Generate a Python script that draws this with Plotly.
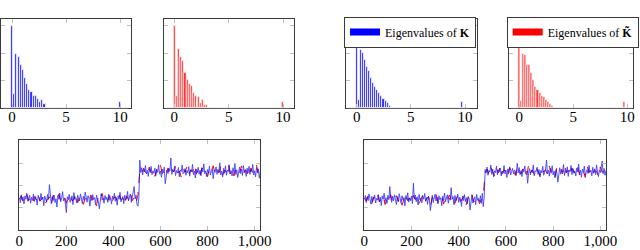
import plotly.graph_objects as go

# ---------------- eigenvalue histograms (top row) ----------------
bins_left = [0.0, 0.2, 0.4, 0.6, 0.8, 1.0, 1.2, 1.4, 1.6, 1.8, 2.0, 2.2, 2.4, 2.6, 2.8, 3.0, 9.94]
eig_K_left = [3.0, 0.52, 1.98, 1.87, 1.59, 1.40, 1.10, 0.88, 0.67, 0.59, 0.43, 0.43, 0.33, 0.22, 0.29, 0.16, 0.23]
eig_Kt_left = [3.0, 0.46, 2.15, 1.88, 1.72, 1.28, 1.04, 0.87, 0.80, 0.54, 0.45, 0.40, 0.21, 0.32, 0.12, 0.12, 0.23]

bins_right = [0.0, 0.19, 0.38, 0.57, 0.76, 0.95, 1.14, 1.33, 1.52, 1.71, 1.90, 2.09, 2.28, 2.47, 2.66, 2.85, 3.04, 9.7]
eig_K_right = [3.0, 0.30, 2.13, 2.01, 1.77, 1.52, 1.34, 1.10, 0.91, 0.79, 0.67, 0.55, 0.43, 0.34, 0.27, 0.18, 0.09, 0.22]
eig_Kt_right = [3.0, 0.27, 1.98, 1.95, 1.59, 1.56, 1.28, 1.04, 0.79, 0.67, 0.55, 0.45, 0.40, 0.30, 0.24, 0.15, 0.09, 0.22]

hist_ticks = [0, 5, 10]
signal_ticks = [0, 200, 400, 600, 800, 1000]
signal_ticklabels = ["0", "200", "400", "600", "800", "1,000"]

# ---------------- signals (bottom row) ----------------
t_blue = list(range(0, 1025, 4))
t_red = list(range(0, 1025, 8))

blue_left = [
    -0.55, -0.78, -0.42, -0.66, -0.51, -0.83, -0.47, -0.62, -0.35, -0.71, -0.58, -0.44, -0.80, -0.53, -0.67, -0.39,
    -0.72, -0.49, -0.61, -0.88, -0.45, -0.57, -0.70, -0.36, -0.64, -0.52, -0.91, -0.48, -0.59, -0.74, -0.41, -0.63,
    0.04, -0.56, -0.82, -0.50, -0.68, -0.43, -0.77, -0.60, -0.97, -0.46, -0.62, -0.34, -0.73, -0.55, -0.28, -0.69,
    -0.58, -0.84, -1.22, -0.51, -0.65, -0.40, -0.76, -0.57, -0.47, -0.86, -0.32, -0.63, -0.54, -0.79, -0.44, -0.60,
    -0.70, -0.38, -0.59, -0.81, -0.49, -0.66, -0.30, -0.62, -0.75, -0.46, -0.57, -0.93, -0.52, -0.68, -0.41, -0.64,
    -0.55, -0.87, -0.43, -0.61, -0.72, -1.05, -0.50, -0.37, -0.66, -0.58, -0.80, -0.45, -0.63, -0.53, -0.76, -0.40,
    -0.67, -0.56, -0.84, -0.48, -0.60, -0.35, -0.71, -0.54, -0.89, -0.46, -0.62, -0.31, -0.74, -0.57, -0.50, -0.82,
    -0.44, -0.65, -0.58, -0.27, -0.70, -0.52, -0.38, -0.76, -0.49, -0.22, -0.05, -0.61, -0.43, -0.85, -0.93, -0.56,
    1.15,
    0.58, 0.80, 0.47, 0.71, 0.62, 0.90, 0.52, 0.68, 0.41, 0.75, 0.60, 0.86, 0.49, 0.66, 0.55,
    0.78, 0.44, 0.70, 0.59, 0.93, 0.51, 0.64, 0.37, 0.73, 0.57, 0.83, 0.08, 0.48, 0.69, 0.54, 0.77,
    0.66, 1.24, 0.50, 0.72, 0.61, 0.88, 0.45, 0.67, 0.56, 0.81, 0.39, 0.70, 0.63, 0.92, 0.53, 0.60,
    0.76, 0.46, 0.68, 0.57, 0.85, 0.42, 0.71, 0.62, 0.95, 0.49, 0.65, 0.34, 0.74, 0.58, 0.82, 0.51,
    0.69, 0.44, 0.79, 0.60, 0.97, 0.53, 0.66, 0.40, 0.72, 0.56, 0.87, 0.47, 0.63, 0.75, 0.31, 0.68,
    0.59, 0.84, 0.50, 0.73, 0.61, 1.02, 0.48, 0.65, 0.38, 0.77, 0.55, 0.89, 0.46, 0.70, 0.62, 0.93,
    0.52, 0.67, 0.43, 0.80, 0.58, 0.99, 0.49, 0.71, 0.36, 0.64, 0.83, 0.54, 0.74, 0.45, 0.90, 0.60,
    0.69, 0.41, 0.78, 0.57, 0.86, 0.50, 0.72, 0.63, 0.95, 0.47, 0.66, 0.39, 0.81, 0.58, 0.75, 0.33, 0.62,
]

red_left = [
    -0.62, -0.48, -0.75, -0.55, -0.41, -0.68, -0.59, -0.83, -0.50, -0.64, -0.37, -0.71, -0.57, -0.46, -0.79, -0.60,
    -0.52, -0.88, -0.44, -0.66, -0.58, -0.39, -0.73, -0.61, -0.49, -0.80, -0.54, -0.42, -0.69, -0.63, -0.35, -0.77,
    -0.56, -0.47, -0.85, -0.60, -0.51, -0.70, -0.43, -0.65, -0.58, -0.92, -0.48, -0.62, -0.36, -0.74, -0.55, -0.67,
    -0.45, -0.82, -0.59, -0.50, -0.71, -0.40, -0.64, -0.57, -0.86, -0.47, -0.63, -0.33, -0.69, -0.53, -0.78, -0.44,
    0.66, 0.52, 0.78, 0.60, 0.45, 0.83, 0.57, 0.70, 0.41, 0.74, 0.63, 0.91, 0.50, 0.68, 0.55, 0.79,
    0.47, 0.72, 0.61, 0.87, 0.53, 0.65, 0.38, 0.76, 0.59, 0.84, 0.49, 0.69, 0.62, 0.94, 0.51, 0.73,
    0.44, 0.80, 0.58, 0.67, 0.40, 0.77, 0.64, 0.89, 0.52, 0.71, 0.56, 0.85, 0.46, 0.70, 0.60, 0.96,
    0.54, 0.75, 0.43, 0.81, 0.65, 0.57, 0.88, 0.48, 0.72, 0.61, 0.37, 0.79, 0.55, 0.68, 0.92, 0.50, 0.66,
]

blue_right = [
    -0.63, -0.45, -0.77, -0.52, -0.68, -0.38, -0.60, -0.84, -0.49, -0.71, -0.56, -0.43, -0.79, -0.58, -0.66, -0.41,
    -0.74, -0.53, -0.90, -0.47, -0.62, -0.35, -0.70, -0.55, -0.81, -0.44, -0.64, -0.05, -0.57, -0.76, -0.48, -0.69,
    -0.42, -0.61, -0.86, -0.50, -0.72, -0.37, -0.59, -0.80, -0.46, -0.67, -0.54, -0.92, -0.45, -0.63, -0.33, -0.75,
    -0.56, -0.69, -0.48, -0.82, 0.10, -0.60, -0.43, -0.73, -0.51, -0.88, -0.40, -0.65, -0.57, -0.78, -0.47, -0.62,
    -0.36, -0.71, -0.54, -0.85, -0.49, -0.66, -1.13, -0.58, -0.44, -0.77, -0.61, -0.39, -0.70, -0.52, -0.83, -0.46,
    -0.64, -0.55, -0.91, -0.48, -0.68, -0.34, -0.73, -0.59, -0.42, -0.80, -0.57, -0.66, -0.10, -0.62, -0.50, -0.87,
    -0.45, -0.70, -0.58, -0.38, -0.76, -0.53, -0.63, -0.94, -0.47, -0.68, -0.41, -0.72, -0.55, -0.83, -0.49, -0.60,
    -1.10, -0.56, -0.44, -0.79, -0.62, -0.51, -0.87, -0.40, -0.67, -0.58, -0.74, -0.46, -0.81, -0.35, -0.95, -0.52,
    0.72,
    0.55, 0.83, 0.46, 0.68, 0.60, 0.92, 0.50, 0.74, 0.39, 0.66, 0.58, 0.87, 0.48, 0.71, 0.62,
    0.79, 0.43, 0.65, 0.56, 0.90, 0.52, 0.69, 0.36, 0.75, 0.59, 0.84, 0.47, 0.63, 0.77, 0.53, 0.70,
    0.61, 0.45, 1.00, 0.57, 0.81, 0.49, 0.67, 0.40, 0.73, 0.60, 0.88, 0.51, 0.64, 0.10, 0.55, 0.76,
    0.48, 0.70, 0.58, 0.93, 0.44, 0.66, 0.62, 0.82, 0.50, 0.72, 0.38, 0.68, 0.57, 0.86, 0.46, 0.63,
    0.74, 1.15, 0.53, 0.69, 0.42, 0.78, 0.59, 0.89, 0.48, 0.65, 0.35, 0.71, 0.56, 0.15, 0.63, 0.80,
    0.51, 0.73, 0.60, 0.95, 0.45, 0.67, 0.58, 0.84, 0.41, 0.70, 0.62, 0.90, 0.49, 0.76, 0.55, 0.66,
    0.43, 0.79, 0.61, 0.97, 0.52, 0.68, 0.37, 0.74, 0.58, 0.87, 0.47, 0.64, 0.72, 0.54, 0.91, 0.60,
    0.69, 0.44, 0.82, 0.57, 0.75, 0.49, 0.93, 0.62, 0.40, 0.71, 0.58, 0.85, 1.10, 0.53, 0.77, 0.46, 0.68,
]

red_right = [
    -0.57, -0.70, -0.44, -0.63, -0.81, -0.52, -0.66, -0.39, -0.74, -0.60, -0.48, -0.86, -0.55, -0.68, -0.42, -0.77,
    -0.59, -0.46, -0.72, -0.53, -0.89, -0.61, -0.37, -0.69, -0.56, -0.79, -0.45, -0.64, -0.51, -0.83, -0.58, -0.41,
    -0.73, -0.62, -0.49, -0.95, -0.54, -0.67, -0.38, -0.76, -0.60, -0.47, -0.84, -0.56, -0.70, -0.43, -0.65, -0.52,
    -0.80, -0.58, -0.35, -0.72, -0.61, -0.46, -0.87, -0.55, -0.68, -0.40, -0.75, -0.59, -0.50, -0.82, -0.63, -0.45,
    0.58, 0.74, 0.49, 0.82, 0.62, 0.43, 0.77, 0.56, 0.90, 0.51, 0.69, 0.64, 0.38, 0.80, 0.59, 0.72,
    0.46, 0.86, 0.61, 0.53, 0.75, 0.67, 0.41, 0.93, 0.57, 0.70, 0.50, 0.83, 0.63, 0.45, 0.78, 0.60,
    0.71, 0.48, 0.88, 0.55, 0.66, 0.39, 0.81, 0.62, 0.74, 0.52, 0.95, 0.58, 0.68, 0.44, 0.79, 0.61,
    0.54, 0.85, 0.47, 0.72, 0.65, 0.36, 0.89, 0.57, 0.76, 0.50, 0.67, 0.63, 0.42, 0.84, 0.59, 0.73, 0.55,
]

W, H = 640, 250
FONT = "'Liberation Serif', 'Times New Roman', 'DejaVu Serif', serif"
FRAME = "#3a3a3a"
TICK = "#c0c0c0"
BLUE = "#0000ff"
RED = "#ff0000"

fig = go.Figure()

# histogram bars (thin white outline keeps neighbouring bars visually separate)
hist_sets = [
    ("x", "y", bins_left, eig_K_left, "#3333ff"),
    ("x2", "y2", bins_left, eig_Kt_left, "#ff3333"),
    ("x3", "y3", bins_right, eig_K_right, "#3333ff"),
    ("x4", "y4", bins_right, eig_Kt_right, "#ff3333"),
]
for xa, ya, bx, by, col in hist_sets:
    fig.add_trace(go.Bar(x=bx, y=by, width=0.19,
                         marker=dict(color=col, line=dict(width=0.8, color="white")),
                         xaxis=xa, yaxis=ya, showlegend=False))
    # light baseline along the bottom of each histogram panel
    fig.add_shape(type="line", xref=xa, yref=ya, x0=-0.8, x1=10.75 if xa in ("x", "x2") else 10.45,
                  y0=0, y1=0, line=dict(color="#c8c8c8", width=1.2), layer="above")

# legend entries (wide swatches like pgfplots)
fig.add_trace(go.Scatter(x=[None], y=[None], mode="lines", line=dict(color=BLUE, width=7),
                         name="Eigenvalues of <b>K</b>", xaxis="x3", yaxis="y3",
                         legend="legend", showlegend=True))
fig.add_trace(go.Scatter(x=[None], y=[None], mode="lines", line=dict(color=RED, width=7),
                         name="Eigenvalues of <b>K\u0303</b>", xaxis="x4", yaxis="y4",
                         legend="legend2", showlegend=True))

# signals
for xa, ya, rb, bb in [("x5", "y5", red_left, blue_left), ("x6", "y6", red_right, blue_right)]:
    fig.add_trace(go.Scatter(x=t_red, y=rb, mode="lines", line=dict(color=RED, width=1, dash="dash"),
                             xaxis=xa, yaxis=ya, showlegend=False))
    fig.add_trace(go.Scatter(x=t_blue, y=bb, mode="lines", line=dict(color=BLUE, width=0.9),
                             opacity=0.75, xaxis=xa, yaxis=ya, showlegend=False))

top_y = [1 - 108.3 / H, 1 - 19 / H]
bot_y = [1 - 230.3 / H, 1 - 140 / H]

def xax(domain, rng, tickvals, standoff, ticktext=None):
    d = dict(domain=domain, range=rng, tickvals=tickvals, showgrid=False, zeroline=False,
             showline=True, linecolor=FRAME, linewidth=1, mirror="ticks",
             ticks="inside", ticklen=4, tickcolor=TICK, tickwidth=1,
             ticklabelstandoff=standoff,
             tickfont=dict(family=FONT, size=15, color="black"), fixedrange=True)
    if ticktext is not None:
        d["ticktext"] = ticktext
    return d

def yax(domain, rng, tickvals, anchor):
    return dict(domain=domain, range=rng, tickvals=tickvals, showticklabels=False,
                showgrid=False, zeroline=False, showline=True, linecolor=FRAME, linewidth=1,
                mirror="ticks", ticks="inside", ticklen=4, tickcolor=TICK, tickwidth=1,
                anchor=anchor, fixedrange=True)

legend_common = dict(xanchor="left", yanchor="top", bgcolor="white",
                     bordercolor=FRAME, borderwidth=1,
                     font=dict(family=FONT, size=12, color="black"), itemwidth=30)

layout = dict(
    width=W, height=H, autosize=False,
    margin=dict(l=0, r=0, t=0, b=0, pad=0, autoexpand=False),
    paper_bgcolor="white", plot_bgcolor="white", bargap=0,
    font=dict(family=FONT, color="black"),
    xaxis=xax([1 / W, 130.7 / W], [-1.02, 10.97], hist_ticks, -5) | dict(anchor="y"),
    yaxis=yax(top_y, [0, 3.25], [0, 1, 2, 3], "x"),
    xaxis2=xax([163.7 / W, 293.7 / W], [-0.98, 10.98], hist_ticks, -5) | dict(anchor="y2"),
    yaxis2=yax(top_y, [0, 3.25], [0, 1, 2, 3], "x2"),
    xaxis3=xax([346 / W, 476.7 / W], [-0.99, 11.08], hist_ticks, -5) | dict(anchor="y3"),
    yaxis3=yax(top_y, [0, 3.25], [0, 1, 2, 3], "x3"),
    xaxis4=xax([509.3 / W, 633.3 / W], [-0.93, 10.56], hist_ticks, -5) | dict(anchor="y4"),
    yaxis4=yax(top_y, [0, 3.25], [0, 1, 2, 3], "x4"),
    xaxis5=xax([19.3 / W, 260.3 / W], [0, 1024], signal_ticks, -3, signal_ticklabels) | dict(anchor="y5"),
    yaxis5=yax(bot_y, [-2.02, 2.05], [-1, 0, 1], "x5"),
    xaxis6=xax([364.3 / W, 606 / W], [0, 1024], signal_ticks, -3, signal_ticklabels) | dict(anchor="y6"),
    yaxis6=yax(bot_y, [-2.02, 2.05], [-1, 0, 1], "x6"),
    legend=legend_common | dict(x=344 / W, y=1 - 16.5 / H),
    legend2=legend_common | dict(x=506.7 / W, y=1 - 16.5 / H),
)
fig.update_layout(**layout)

fig.write_html(
    "out.html",
    config={"displayModeBar": False},
    post_script="document.body.style.margin='0';document.body.style.padding='0';document.body.style.overflow='hidden';",
)
